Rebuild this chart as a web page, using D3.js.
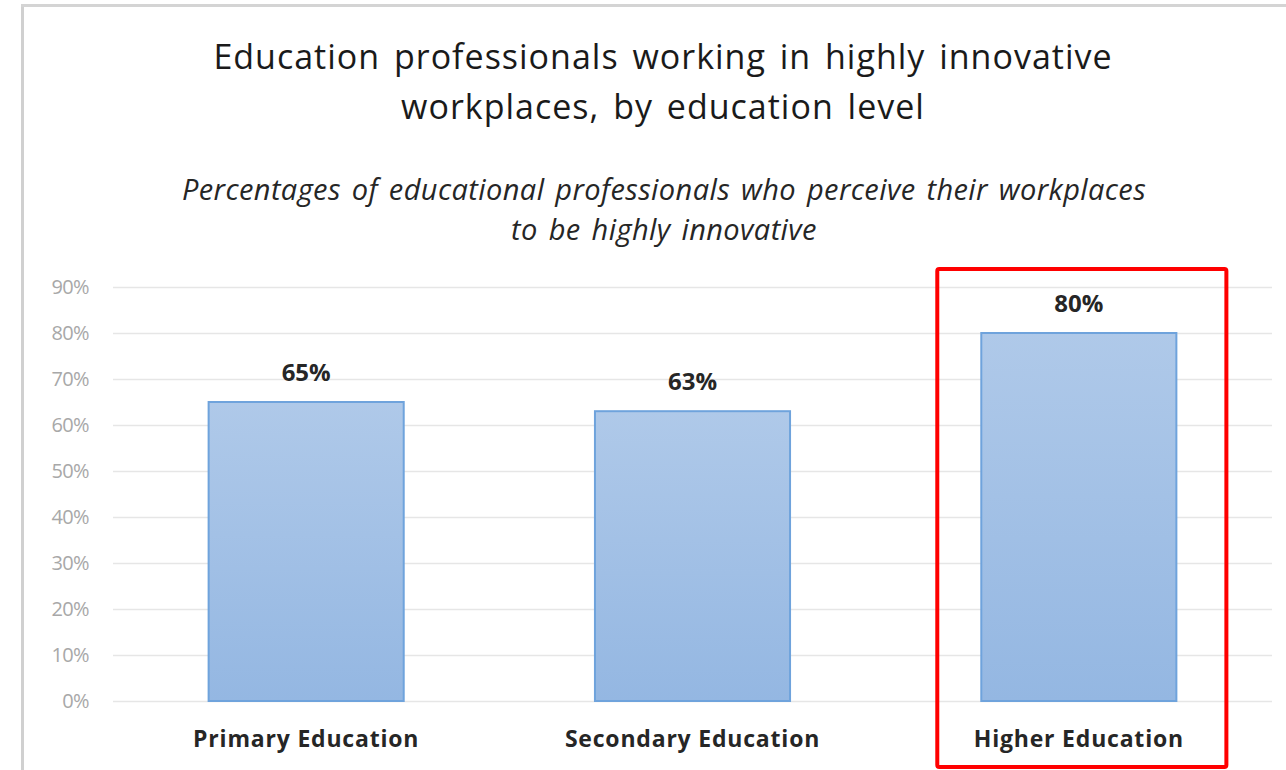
<!DOCTYPE html>
<html>
<head>
<meta charset="utf-8">
<script src="https://cdn.jsdelivr.net/npm/d3@7"></script>
<style>
  body { margin: 0; background: #fff; }
  text { font-family: "Open Sans", "Noto Sans", sans-serif; }
</style>
</head>
<body>
<div id="chart"></div>
<script>
var categories = ["Primary Education", "Secondary Education", "Higher Education"];
var values = [65, 63, 80];
var yTicks = [0, 10, 20, 30, 40, 50, 60, 70, 80, 90];
var titleLines = ["Education professionals working in highly innovative", "workplaces, by education level"];
var subtitleLines = ["Percentages of educational professionals who perceive their workplaces", "to be highly innovative"];
var highlighted = "Higher Education";

var width = 1286, height = 770;
var margin = {left: 113, right: 14, top: 287, bottom: 69};

var svg = d3.select("#chart").append("svg")
	.attr("width", width)
	.attr("height", height);

// bar gradient
var grad = svg.append("defs").append("linearGradient")
	.attr("id", "barFill")
	.attr("x1", 0).attr("y1", 0).attr("x2", 0).attr("y2", 1);
grad.append("stop").attr("offset", "0%").attr("stop-color", "#afc9e9");
grad.append("stop").attr("offset", "100%").attr("stop-color", "#94b7e2");

// frame (left + top edge)
svg.append("line").attr("x1", 22.5).attr("x2", 22.5).attr("y1", 4).attr("y2", height)
	.style("stroke", "#d0d0d0").style("stroke-width", 3);
svg.append("line").attr("x1", 21).attr("x2", width).attr("y1", 5.5).attr("y2", 5.5)
	.style("stroke", "#d4d4d4").style("stroke-width", 3);

var x = d3.scaleBand()
	.domain(categories)
	.range([margin.left, width - margin.right])
	.paddingInner(0.495)
	.paddingOuter(0.2475);

var y = d3.scaleLinear()
	.domain([0, 90])
	.range([height - margin.bottom, margin.top]);

// gridlines
svg.append("g").selectAll("line")
	.data(yTicks)
	.enter().append("line")
	.attr("x1", margin.left)
	.attr("x2", width - margin.right)
	.attr("y1", function(d) { return Math.round(y(d)) + 0.5; })
	.attr("y2", function(d) { return Math.round(y(d)) + 0.5; })
	.style("stroke", "#e6e6e6")
	.style("stroke-width", 1.5);

// y axis labels
var yAxis = d3.axisLeft(y)
	.tickValues(yTicks)
	.tickSize(0)
	.tickPadding(0)
	.tickFormat(function(d) { return d + "%"; });

var ya = svg.append("g")
	.attr("transform", "translate(" + 89 + ",0)")
	.call(yAxis);
ya.select(".domain").remove();
ya.selectAll("text")
	.style("font-family", "Open Sans, sans-serif")
	.style("font-size", "20px")
	.style("fill", "#a8a8a8")
	.style("letter-spacing", "-0.6px");

// bars
svg.append("g").selectAll("rect")
	.data(values)
	.enter().append("rect")
	.attr("x", function(d, i) { return x(categories[i]); })
	.attr("y", function(d) { return y(d); })
	.attr("width", x.bandwidth())
	.attr("height", function(d) { return y(0) - y(d); })
	.style("fill", "url(#barFill)")
	.style("stroke", "#6fa3dc")
	.style("stroke-width", 2);

// value labels
svg.append("g").selectAll("text")
	.data(values)
	.enter().append("text")
	.text(function(d) { return d + "%"; })
	.attr("x", function(d, i) { return x(categories[i]) + x.bandwidth() / 2; })
	.attr("y", function(d) { return y(d) - 21; })
	.attr("text-anchor", "middle")
	.style("font-size", "24px")
	.style("font-weight", "bold")
	.style("fill", "#262626");

// category labels
var xAxis = d3.axisBottom(x).tickSize(0).tickPadding(0);
var xa = svg.append("g")
	.attr("transform", "translate(0," + 731 + ")")
	.call(xAxis);
xa.select(".domain").remove();
xa.selectAll("text")
	.attr("dy", "0.71em")
	.style("font-family", "Open Sans, sans-serif")
	.style("font-size", "23px")
	.style("font-weight", "bold")
	.style("fill", "#262626")
	.style("letter-spacing", "0.8px");

// title
svg.append("g").selectAll("text")
	.data(titleLines)
	.enter().append("text")
	.text(function(d) { return d; })
	.attr("x", 663)
	.attr("y", function(d, i) { return 69 + i * 50; })
	.attr("text-anchor", "middle")
	.style("font-size", "34px")
	.style("fill", "#1a1a1a")
	.style("letter-spacing", "1px")
	.style("word-spacing", "4px");

svg.append("g").selectAll("text")
	.data(subtitleLines)
	.enter().append("text")
	.text(function(d) { return d; })
	.attr("x", 664)
	.attr("y", function(d, i) { return 200 + i * 40; })
	.attr("text-anchor", "middle")
	.style("font-size", "29px")
	.style("font-style", "italic")
	.style("fill", "#262626")
	.style("letter-spacing", "0.4px")
	.style("word-spacing", "3px");

// red highlight box
var pad = 44;
svg.append("rect")
	.attr("x", x(highlighted) - pad)
	.attr("y", 269)
	.attr("width", x.bandwidth() + pad * 2 + 6)
	.attr("height", 498)
	.attr("rx", 2)
	.style("fill", "none")
	.style("stroke", "#ff0000")
	.style("stroke-width", 4);
</script>
</body>
</html>
